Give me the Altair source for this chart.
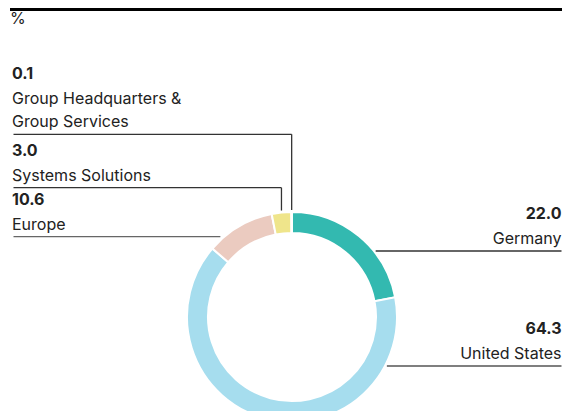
import altair as alt
import pandas as pd
import math

# ---- data ----
names = ["Germany", "United States", "Europe", "Systems Solutions", "Group Headquarters & Group Services"]
values = [22.0, 64.3, 10.6, 3.0, 0.1]
colors = ["#33b9b0", "#a6ddee", "#ebcbc0", "#efe58b", "#d9d9d9"]
label_lines = [["Germany"], ["United States"], ["Europe"], ["Systems Solutions"],
               ["Group Headquarters &", "Group Services"]]
value_texts = ["22.0", "64.3", "10.6", "3.0", "0.1"]

# ---- layout (page pixel coordinates) ----
W, H = 554, 403
OFF = 8
CX, CY, R, R_IN = 292, 317, 105, 84
FONT = "Inter"
FS = 16
TXT = "#222222"
LEFT_X = 12
RIGHT_X = 561.5
under_y = [251, 366, 236.7, 187.7, 134.3]
side = ["right", "right", "left", "left", "left"]
line_col = ["#333333", "#555555", "#666666", "#333333", "#333333"]

slices = pd.DataFrame({"name": names, "value": values, "order": list(range(len(names)))})

total = sum(values)
cum = 0
rules, texts = [], []
for i, (n, v) in enumerate(zip(names, values)):
    mid = (cum + v / 2) / total * 2 * math.pi
    cum += v
    ly = under_y[i]
    c = line_col[i]
    if side[i] == "right":
        dy = ly - CY
        ex = CX + math.sqrt(R ** 2 - dy ** 2) + 2
        rules.append(dict(x=ex, x2=RIGHT_X, y=ly, y2=ly, w=1.3, c=c))
        tx, align = RIGHT_X, "right"
    else:
        if i == 2:
            dy = ly - CY
            ex = CX - math.sqrt(R ** 2 - dy ** 2) - 4
            rules.append(dict(x=13.5, x2=ex, y=ly, y2=ly, w=1.3, c=c))
        else:
            vx = CX + R * math.sin(mid)
            vy = CY - math.sqrt(R ** 2 - (vx - CX) ** 2) - 2
            rules.append(dict(x=13.5, x2=vx, y=ly, y2=ly, w=1.3, c=c))
            rules.append(dict(x=vx, x2=vx, y=ly, y2=vy, w=1.3, c=c))
        tx, align = LEFT_X, "left"
    lines = label_lines[i]
    base = ly - 7
    for k, t in enumerate(reversed(lines)):
        texts.append(dict(x=tx, y=base - 23.5 * k, t=t, al=align, wt="normal"))
    texts.append(dict(x=tx, y=base - 23.5 * len(lines) - 1.5, t=value_texts[i], al=align, wt="bold"))

rules.append(dict(x=10, x2=570, y=9.5, y2=9.5, w=3, c="#000000"))
texts.append(dict(x=LEFT_X - 2, y=24, t="%", al="left", wt="normal"))

rules_df = pd.DataFrame(rules)
texts_df = pd.DataFrame(texts)

xs = alt.Scale(domain=[OFF, OFF + W], nice=False, zero=False)
ys = alt.Scale(domain=[OFF, OFF + H], nice=False, zero=False, reverse=True)

arc = alt.Chart(slices).mark_arc(
    outerRadius=R, innerRadius=R_IN, stroke="white", strokeWidth=2
).encode(
    theta=alt.Theta("value:Q", stack=True),
    order=alt.Order("order:Q"),
    color=alt.Color("name:N", scale=alt.Scale(domain=names, range=colors), legend=None),
    x=alt.value(CX - OFF),
    y=alt.value(CY - OFF),
)

rule_layer = alt.Chart(rules_df).mark_rule().encode(
    x=alt.X("x:Q", scale=xs, axis=None),
    x2="x2:Q",
    y=alt.Y("y:Q", scale=ys, axis=None),
    y2="y2:Q",
    strokeWidth=alt.StrokeWidth("w:Q", scale=None),
    color=alt.Color("c:N", scale=None),
)

base_text = alt.Chart(texts_df).encode(
    x=alt.X("x:Q", scale=xs, axis=None),
    y=alt.Y("y:Q", scale=ys, axis=None),
    text="t:N",
)

layers = [arc, rule_layer]
for align in ["left", "right"]:
    for wt in ["normal", "bold"]:
        layers.append(
            base_text.transform_filter(
                (alt.datum.al == align) & (alt.datum.wt == wt)
            ).mark_text(
                align=align, baseline="alphabetic", font=FONT, fontSize=FS,
                fontWeight=wt, color=TXT
            )
        )

chart = alt.layer(*layers).properties(
    width=W, height=H, padding=0,
    autosize=alt.AutoSizeParams(type="none"),
).configure_view(stroke=None)

chart.save("out.html", embed_options={"renderer": "svg", "actions": False})
